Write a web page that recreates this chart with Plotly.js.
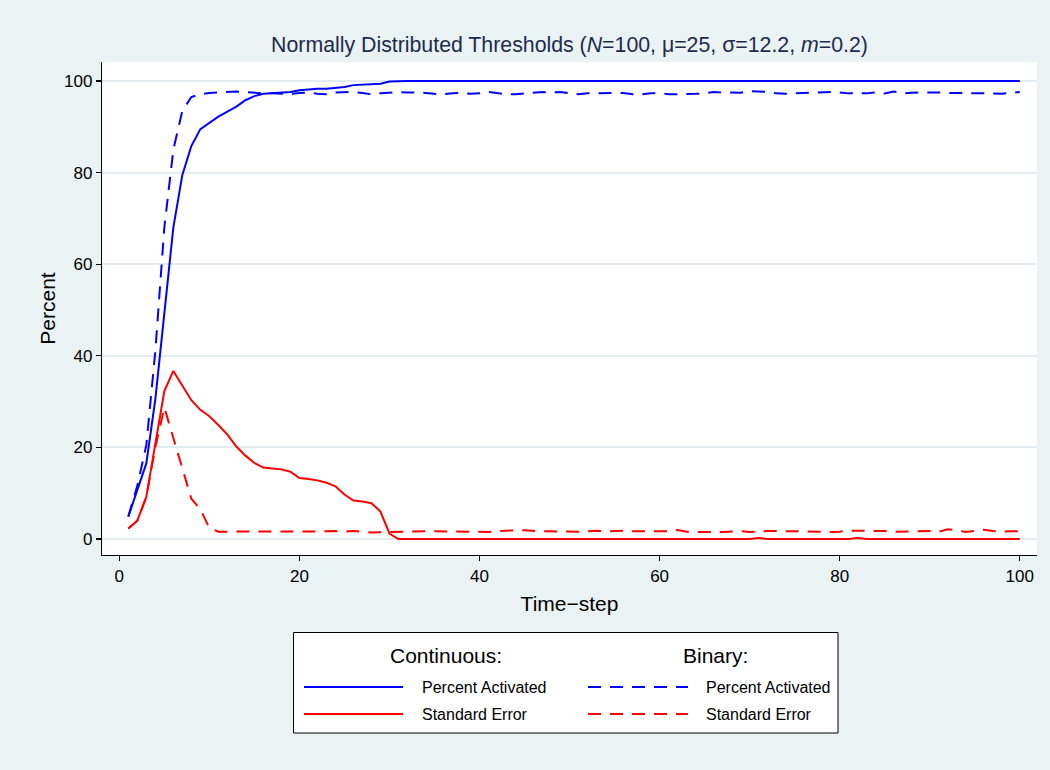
<!DOCTYPE html>
<html>
<head>
<meta charset="utf-8">
<script src="https://cdn.plot.ly/plotly-3.0.1.min.js"></script>
<style>
  html, body { margin: 0; padding: 0; background: #EAF2F3; }
  #chart { width: 1050px; height: 770px; }
</style>
</head>
<body>
<div id="chart"></div>
<script>
// ---- data ----
const timeStep = [1,2,3,4,5,6,7,8,9,10,11,12,13,14,15,16,17,18,19,20,
  21,22,23,24,25,26,27,28,29,30,31,32,33,34,35,36,37,38,39,40,
  41,42,43,44,45,46,47,48,49,50,51,52,53,54,55,56,57,58,59,60,
  61,62,63,64,65,66,67,68,69,70,71,72,73,74,75,76,77,78,79,80,
  81,82,83,84,85,86,87,88,89,90,91,92,93,94,95,96,97,98,99,100];

const contActivated = [4.9,10.5,16.5,30.5,50,68,79.5,85.8,89.5,90.8,
  92.2,93.3,94.4,95.8,96.7,97.2,97.3,97.5,97.6,98.0,
  98.2,98.3,98.3,98.5,98.7,99.1,99.2,99.2,99.4,99.9,
  100,100,100,100,100,100,100,100,100,100,
  100,100,100,100,100,100,100,100,100,100,
  100,100,100,100,100,100,100,100,100,100,
  100,100,100,100,100,100,100,100,100,100,
  100,100,100,100,100,100,100,100,100,100,
  100,100,100,100,100,100,100,100,100,100,
  100,100,100,100,100,100,100,100,100,100];

const binActivated = [4.9,11.6,20.5,41,68,85,93.5,96.5,97.1,97.4,
  97.5,97.6,97.7,97.6,97.4,97.3,97.3,97.3,97.2,97.4,
  97.5,97.2,97.1,97.5,97.6,97.6,97.4,97.1,97.3,97.5,
  97.6,97.5,97.5,97.4,97.2,97.1,97.3,97.4,97.2,97.3,
  97.6,97.3,97.1,97.1,97.3,97.4,97.6,97.5,97.6,97.3,
  97.1,97.3,97.3,97.4,97.4,97.4,97.1,97.1,97.3,97.4,
  97.1,97.1,97.2,97.2,97.3,97.6,97.5,97.45,97.45,97.8,
  97.7,97.6,97.3,97.2,97.3,97.4,97.5,97.5,97.6,97.5,
  97.3,97.3,97.3,97.5,97.3,97.7,97.3,97.45,97.45,97.6,
  97.5,97.4,97.4,97.3,97.3,97.3,97.3,97.2,97.4,97.6];

const contSE = [2.3,4.0,9.2,20.3,32.3,36.7,33.4,30.3,28.2,26.8,
  24.9,22.8,20.2,18.2,16.6,15.6,15.4,15.2,14.7,13.3,
  13.1,12.8,12.3,11.5,9.7,8.4,8.2,7.8,6.0,1.2,
  0,0,0,0,0,0,0,0,0,0,
  0,0,0,0,0,0,0,0,0,0,
  0,0,0,0,0,0,0,0,0,0,
  0,0,0,0,0,0,0,0,0,0,
  0.2,0,0,0,0,0,0,0,0,0,
  0,0.2,0,0,0,0,0,0,0,0,
  0,0,0,0,0,0,0,0,0.1,0];

const binSE = [2.3,4.0,9.2,20,28.7,22.2,15.5,8.8,6.5,2.4,
  1.6,1.6,1.65,1.6,1.55,1.6,1.65,1.67,1.67,1.67,
  1.67,1.67,1.67,1.74,1.6,1.74,1.55,1.4,1.5,1.55,
  1.67,1.67,1.67,1.67,1.67,1.67,1.67,1.67,1.6,1.53,
  1.53,1.74,1.85,1.9,1.89,1.75,1.67,1.67,1.6,1.6,
  1.6,1.67,1.82,1.67,1.74,1.82,1.67,1.67,1.74,1.7,
  1.67,1.96,1.6,1.53,1.6,1.53,1.53,1.65,1.74,1.53,
  1.67,1.74,1.74,1.74,1.74,1.74,1.74,1.6,1.55,1.6,
  1.82,1.82,1.82,1.82,1.74,1.6,1.67,1.67,1.67,1.74,
  1.6,2.1,1.9,1.53,1.74,2.03,1.74,1.6,1.67,1.67];

const xTicks = [0, 20, 40, 60, 80, 100];
const yTicks = [0, 20, 40, 60, 80, 100];

const groupHeaders = ["Continuous:", "Binary:"];
const seriesLabels = ["Percent Activated", "Standard Error"];

// ---- styling ----
const BLUE = "#0000FF", RED = "#FF0000";
const DASH = "13px,9px";
const FONT = "Liberation Sans, Arial, Helvetica, sans-serif";
const BG = "#EAF2F3";

// plot area in pixels
const L = 102, T = 62, R = 1037, B = 555;
const W = R - L, H = B - T;
const pxX = x => (x - L) / W;
const pxY = y => (B - y) / H;

const traces = [
  {x: timeStep, y: contActivated, name: "Continuous: Percent Activated", mode: "lines",
   line: {color: BLUE, width: 2}},
  {x: timeStep, y: contSE, name: "Continuous: Standard Error", mode: "lines",
   line: {color: RED, width: 2}},
  {x: timeStep, y: binActivated, name: "Binary: Percent Activated", mode: "lines",
   line: {color: BLUE, width: 2, dash: DASH}},
  {x: timeStep, y: binSE, name: "Binary: Standard Error", mode: "lines",
   line: {color: RED, width: 2, dash: DASH}}
];

// legend drawn manually (two columns with headers)
const shapes = [
  {type: "rect", xref: "paper", yref: "paper", x0: pxX(293.5), x1: pxX(838), y0: pxY(733), y1: pxY(632.5),
   fillcolor: "#FFFFFF", line: {color: "#000000", width: 1}, layer: "below"},
  {type: "line", xref: "paper", yref: "paper", x0: pxX(304), x1: pxX(403), y0: pxY(687), y1: pxY(687),
   line: {color: BLUE, width: 2}},
  {type: "line", xref: "paper", yref: "paper", x0: pxX(304), x1: pxX(403), y0: pxY(714), y1: pxY(714),
   line: {color: RED, width: 2}},
  {type: "line", xref: "paper", yref: "paper", x0: pxX(588), x1: pxX(688), y0: pxY(687), y1: pxY(687),
   line: {color: BLUE, width: 2, dash: DASH}},
  {type: "line", xref: "paper", yref: "paper", x0: pxX(588), x1: pxX(688), y0: pxY(714), y1: pxY(714),
   line: {color: RED, width: 2, dash: DASH}}
];

const ann = (text, x, y, anchor, size) => ({
  text: text, xref: "paper", yref: "paper", x: pxX(x), y: pxY(y),
  xanchor: anchor, yanchor: "middle", showarrow: false,
  font: {family: FONT, size: size, color: "#000000"}
});

const annotations = [
  ann(groupHeaders[0], 446, 655, "center", 21),
  ann(groupHeaders[1], 715, 655, "center", 21),
  ann(seriesLabels[0], 420, 687, "left", 16),
  ann(seriesLabels[1], 420, 714, "left", 16),
  ann(seriesLabels[0], 704, 687, "left", 16),
  ann(seriesLabels[1], 704, 714, "left", 16)
];

const axisCommon = {
  showline: true, linecolor: "#000000", linewidth: 1.2,
  ticks: "outside", ticklen: 5, tickwidth: 1.2, tickcolor: "#000000",
  tickfont: {family: FONT, size: 17, color: "#000000"},
  zeroline: false, mirror: false
};

const layout = {
  width: 1050, height: 770,
  paper_bgcolor: BG, plot_bgcolor: "#FFFFFF",
  margin: {l: L, r: 1050 - R, t: T, b: 770 - B, pad: 0},
  showlegend: false,
  title: {
    text: "Normally Distributed Thresholds (<i>N</i>=100, \u03bc=25, \u03c3=12.2, <i>m</i>=0.2)",
    font: {family: FONT, size: 21.3, color: "#1C2B4F"},
    x: (L + R) / 2 / 1050, xanchor: "center", xref: "container",
    y: 1 - 45 / 770, yanchor: "middle", yref: "container"
  },
  xaxis: Object.assign({}, axisCommon, {
    range: [(L - 119.3) / 9.005, (R - 119.3) / 9.005],
    tickvals: xTicks, ticktext: xTicks.map(String),
    showgrid: false,
    title: {text: "Time\u2212step", font: {family: FONT, size: 21, color: "#000000"}, standoff: 11}
  }),
  yaxis: Object.assign({}, axisCommon, {
    range: [(539 - B) / 4.58, (539 - T) / 4.58],
    tickvals: yTicks, ticktext: yTicks.map(String),
    showgrid: true, gridcolor: "#E3ECEF", gridwidth: 2,
    title: {text: "Percent", font: {family: FONT, size: 21, color: "#000000"}, standoff: 2}
  }),
  shapes: shapes,
  annotations: annotations
};

Plotly.newPlot("chart", traces, layout, {displayModeBar: false, staticPlot: true});
</script>
</body>
</html>
